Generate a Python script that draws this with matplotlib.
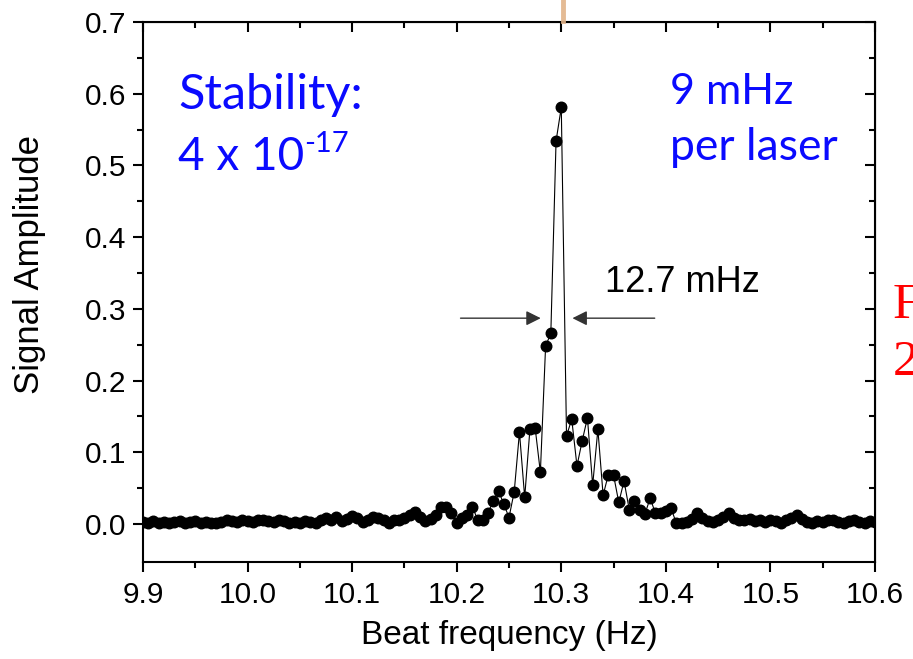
import numpy as np
import matplotlib
matplotlib.use('Agg')
import matplotlib.pyplot as plt
from matplotlib.lines import Line2D

# Tần số beat: 9.900 -> 10.600 Hz, bước 0.005 Hz
freq_start = 9.9
freq_step = 0.005

# Biên độ tín hiệu (141 điểm)
amp_left = [0.003, 0.002, 0.004, 0.002, 0.003, 0.001, 0.003, 0.004, 0.002, 0.003,
            0.004, 0.002, 0.003, 0.002, 0.001, 0.003, 0.005, 0.004, 0.003, 0.005,
            0.004, 0.003, 0.005, 0.006, 0.004, 0.003, 0.005, 0.004, 0.002, 0.003,
            0.002, 0.004, 0.003, 0.001, 0.005, 0.008, 0.006, 0.010, 0.004, 0.007,
            0.011, 0.008, 0.003, 0.006, 0.010, 0.008, 0.005, 0.002, 0.006, 0.005,
            0.008, 0.012, 0.017, 0.010, 0.004, 0.007]
amp_peak = [0.012, 0.023, 0.023, 0.015, 0.002, 0.009, 0.012, 0.024, 0.006, 0.006,
            0.016, 0.032, 0.046, 0.028, 0.009, 0.045, 0.128, 0.037, 0.132, 0.134,
            0.072, 0.248, 0.266, 0.534, 0.581, 0.123, 0.146, 0.081, 0.116, 0.148,
            0.054, 0.132, 0.040, 0.069, 0.068, 0.030, 0.060, 0.020, 0.032, 0.020,
            0.014, 0.036, 0.015, 0.016, 0.018, 0.022]
amp_right = [0.001, 0.001, 0.003, 0.007, 0.016, 0.008, 0.004, 0.003, 0.006, 0.010,
             0.015, 0.008, 0.005, 0.006, 0.007, 0.004, 0.006, 0.003, 0.005, 0.004,
             0.002, 0.005, 0.008, 0.012, 0.007, 0.003, 0.002, 0.004, 0.003, 0.005,
             0.006, 0.003, 0.002, 0.004, 0.005, 0.003, 0.002, 0.004, 0.003]

amplitude = np.array(amp_left + amp_peak + amp_right)
freq = freq_start + freq_step * np.arange(len(amplitude))

x_ticks = [9.9, 10.0, 10.1, 10.2, 10.3, 10.4, 10.5, 10.6]
y_ticks = [0.0, 0.1, 0.2, 0.3, 0.4, 0.5, 0.6, 0.7]

# Độ rộng vạch FWHM
fwhm_level = 0.287
fwhm_left = [10.201, 10.283]
fwhm_right = [10.392, 10.308]

plt.rcParams['font.family'] = ['Liberation Sans', 'DejaVu Sans']

fig = plt.figure(figsize=(9.13, 6.59), dpi=100)
ax = fig.add_axes([143 / 913, 1 - 562 / 659, 732 / 913, 540 / 659])

ax.plot(freq, amplitude, color='black', lw=0.8, marker='o', ms=7.6,
        mfc='black', mec='black', zorder=3)

ax.set_xlim(9.9, 10.6)
ax.set_ylim(-0.053, 0.7)
x_minor = np.arange(9.95, 10.6, 0.1)
y_minor = np.arange(0.05, 0.7, 0.1)
ax.set_xticks(x_ticks)
ax.set_xticklabels([f'{v:.1f}' for v in x_ticks])
ax.set_yticks(y_ticks)
ax.set_yticklabels([f'{v:.1f}' for v in y_ticks])
ax.set_xticks(x_minor, minor=True)
ax.set_yticks(y_minor, minor=True)

for s in ax.spines.values():
    s.set_linewidth(1.5)
ax.tick_params(axis='both', which='major', direction='out', length=7, width=1.5,
               labelsize=21.5, pad=5)
ax.tick_params(axis='x', which='major', pad=7)
ax.tick_params(axis='both', which='minor', direction='out', length=4, width=1.5)

# trục phụ (trên/phải) có vạch chia hướng vào trong
secx = ax.secondary_xaxis('top')
secx.set_xticks(x_ticks)
secx.set_xticks(x_minor, minor=True)
secx.tick_params(which='major', direction='in', length=7, width=1.5)
secx.tick_params(which='minor', direction='in', length=4, width=1.5)
secx.set_xticklabels([])
secy = ax.secondary_yaxis('right')
secy.set_yticks(y_ticks)
secy.set_yticks(y_minor, minor=True)
secy.tick_params(which='major', direction='in', length=7, width=1.5)
secy.tick_params(which='minor', direction='in', length=4, width=1.5)
secy.set_yticklabels([])

ax.set_xlabel('Beat frequency (Hz)', fontsize=24)
ax.set_ylabel('Signal Amplitude', fontsize=25)
ax.xaxis.set_label_coords(0.5, -0.108)
ax.yaxis.set_label_coords(-0.133, 0.55)

# Mũi tên FWHM
arrow = dict(arrowstyle='-|>', color='#333333', lw=1.0, mutation_scale=22)
ax.annotate('', xy=(fwhm_left[1], fwhm_level), xytext=(fwhm_left[0], fwhm_level),
            arrowprops=arrow)
ax.annotate('', xy=(fwhm_right[1], fwhm_level), xytext=(fwhm_right[0], fwhm_level),
            arrowprops=arrow)
ax.text(10.342, 0.3236, '12.7 mHz', fontsize=26, ha='left', va='baseline')

# Chữ xanh
blue = '#0a0aff'
fig.text(178 / 913, 1 - 109 / 659, 'Stability:', color=blue, fontsize=35,
         family='Lato', ha='left', va='baseline')
fig.text(178 / 913, 1 - 170 / 659, '4 x 10', color=blue, fontsize=33,
         family='Lato', ha='left', va='baseline')
fig.text(304 / 913, 1 - 152 / 659, '-17', color=blue, fontsize=21,
         family='Lato', ha='left', va='baseline')
fig.text(670 / 913, 1 - 104 / 659, '9 mHz', color=blue, fontsize=31,
         family='Lato', ha='left', va='baseline')
fig.text(670 / 913, 1 - 160 / 659, 'per laser', color=blue, fontsize=32,
         family='Lato', ha='left', va='baseline')

# Chữ đỏ bị cắt ở mép phải (giống ảnh gốc)
fig.text(893 / 913, 1 - 318 / 659, 'F', color='red', fontsize=37,
         family='Liberation Serif', ha='left', va='baseline')
fig.text(893 / 913, 1 - 375 / 659, '2', color='red', fontsize=37,
         family='Liberation Serif', ha='left', va='baseline')

# vạch màu cam phía trên
fig.add_artist(Line2D([563 / 913, 563 / 913], [1 - 21 / 659, 1.0],
                      color='#e2b48a', lw=3.5, alpha=0.9))

plt.savefig('out.png', dpi=100)
